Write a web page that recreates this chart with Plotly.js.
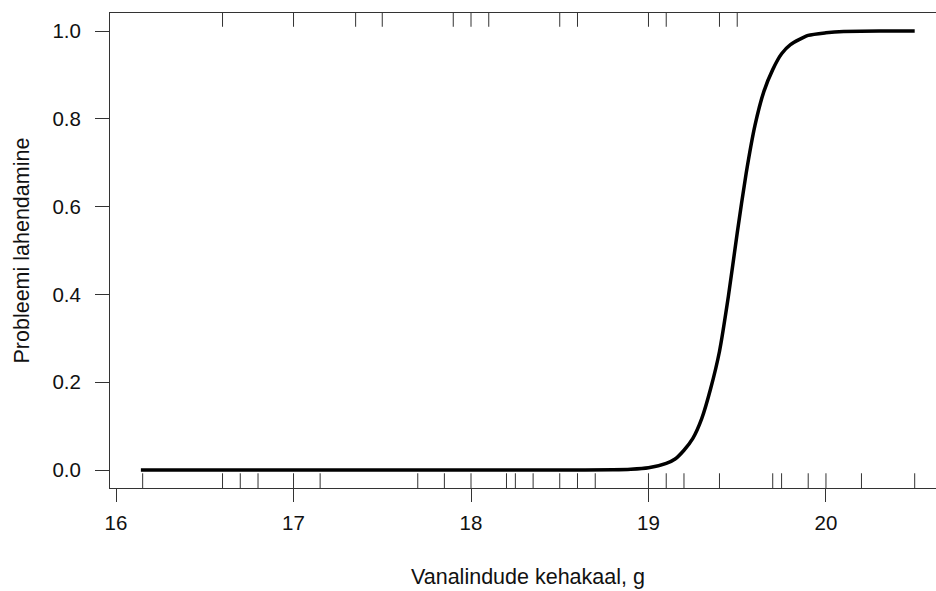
<!DOCTYPE html>
<html>
<head>
<meta charset="utf-8">
<script src="https://cdn.plot.ly/plotly-3.0.1.min.js"></script>
<style>html,body{margin:0;padding:0;background:#fff;}#chart{width:936px;height:591px;}</style>
</head>
<body>
<div id="chart"></div>
<script>
// fitted curve
const curveX = [16.14, 16.6, 17.0, 17.5, 18.0, 18.5, 18.8, 18.9, 19.0, 19.1, 19.15, 19.2, 19.25, 19.3, 19.35, 19.4, 19.45, 19.5, 19.55, 19.6, 19.65, 19.7, 19.75, 19.8, 19.9, 20.0, 20.1, 20.3, 20.5];
const curveY = [0.0, 0.0, 0.0, 0.0, 0.0, 0.0, 0.0005, 0.0016, 0.005, 0.015, 0.025, 0.045, 0.072, 0.117, 0.185, 0.27, 0.395, 0.54, 0.675, 0.785, 0.862, 0.912, 0.948, 0.969, 0.99, 0.996, 0.999, 1.0, 1.0];
// rug marks: observations at top (1) and bottom (0)
const rugTop = [16.6, 17.0, 17.35, 17.5, 17.9, 18.0, 18.1, 18.5, 18.6, 19.0, 19.1, 19.4, 19.5];
const rugBottom = [16.15, 16.6, 16.7, 16.8, 17.0, 17.15, 17.7, 17.85, 18.0, 18.2, 18.25, 18.35, 18.5, 18.6, 18.7, 19.0, 19.1, 19.2, 19.4, 19.7, 19.75, 19.9, 20.0, 20.2, 20.5];
const xTicks = [16, 17, 18, 19, 20];
const yTicks = [0.0, 0.2, 0.4, 0.6, 0.8, 1.0];

const FONT = 'Liberation Sans, Arial, sans-serif';
const shapes = [];
rugTop.forEach(v => shapes.push({type:'line', xref:'x', yref:'paper', x0:v, x1:v, y0:1, y1:0.971, line:{color:'#333', width:1}}));
rugBottom.forEach(v => shapes.push({type:'line', xref:'x', yref:'paper', x0:v, x1:v, y0:0, y1:0.031, line:{color:'#333', width:1}}));

const trace = {x: curveX, y: curveY, type:'scatter', mode:'lines', line:{color:'#000', width:3.5, shape:'spline', smoothing:0.6}, hoverinfo:'skip'};

const layout = {
  width: 936, height: 591,
  margin: {l:110, r:0, t:13, b:103},
  paper_bgcolor:'#fff', plot_bgcolor:'#fff',
  showlegend:false,
  font:{family:FONT, size:20, color:'#111'},
  xaxis: {range:[15.966, 20.62], tickvals:xTicks, ticktext:xTicks.map(String), ticks:'outside', ticklen:13, tickwidth:1, tickcolor:'#333',
          showline:true, linecolor:'#333', linewidth:1, mirror:true, showgrid:false, zeroline:false, ticklabelstandoff:3,
          tickfont:{family:FONT, size:20.5, color:'#111'}},
  yaxis: {range:[-0.041, 1.041], tickvals:yTicks, ticktext:yTicks.map(v=>v.toFixed(1)), ticks:'outside', ticklen:14, tickwidth:1, tickcolor:'#333',
          showline:true, linecolor:'#333', linewidth:1, mirror:false, showgrid:false, zeroline:false, ticklabelstandoff:10,
          tickfont:{family:FONT, size:20.5, color:'#111'}},
  shapes: shapes,
  annotations: [
    {text:'Vanalindude kehakaal, g', xref:'paper', yref:'paper', x:(528-110)/826, y:-(577-488)/475, xanchor:'center', yanchor:'middle', showarrow:false, font:{family:FONT, size:21.5, color:'#111'}},
    {text:'Probleemi lahendamine', xref:'paper', yref:'paper', x:-(110-21)/826, y:0.5, xanchor:'center', yanchor:'middle', textangle:-90, showarrow:false, font:{family:FONT, size:21.5, color:'#111'}}
  ]
};
Plotly.newPlot('chart', [trace], layout, {staticPlot:true, displayModeBar:false});
</script>
</body>
</html>
